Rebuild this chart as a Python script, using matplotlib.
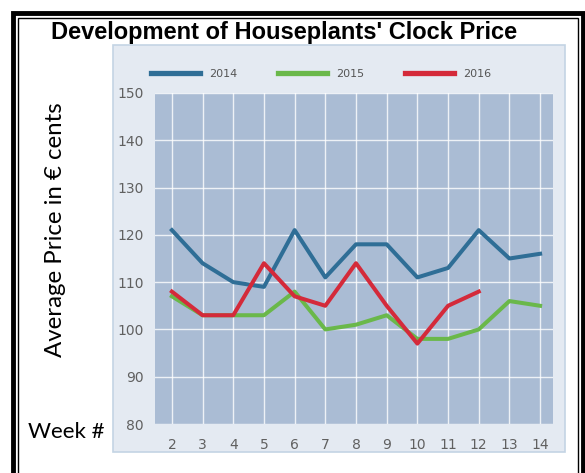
import matplotlib
matplotlib.use("Agg")
import matplotlib.pyplot as plt
from matplotlib.patches import Rectangle

# data
weeks = [2, 3, 4, 5, 6, 7, 8, 9, 10, 11, 12, 13, 14]
price_2014 = [121, 114, 110, 109, 121, 111, 118, 118, 111, 113, 121, 115, 116]
price_2015 = [107, 103, 103, 103, 108, 100, 101, 103, 98, 98, 100, 106, 105]
weeks_2016 = [2, 3, 4, 5, 6, 7, 8, 9, 10, 11, 12]
price_2016 = [108, 103, 103, 114, 107, 105, 114, 105, 97, 105, 108]
yticks = [80, 90, 100, 110, 120, 130, 140, 150]

W, H = 585, 473
fig = plt.figure(figsize=(W / 100, H / 100), dpi=100)
fig.patch.set_facecolor("white")

def px(x0, y0, x1, y1):
    # pixel box (top-left origin) -> figure fraction rect
    return (x0 / W, 1 - y1 / H, (x1 - x0) / W, (y1 - y0) / H)

# double border
r = px(12.5, 13, 582.5, 480)
fig.patches.append(Rectangle(r[:2], r[2], r[3], transform=fig.transFigure,
                             fill=False, ec="black", lw=3.5, zorder=-1))
r = px(17.5, 18, 577.5, 480)
fig.patches.append(Rectangle(r[:2], r[2], r[3], transform=fig.transFigure,
                             fill=False, ec="black", lw=1.0, zorder=-1))

# light panel behind the chart
r = px(113, 45, 565, 452)
fig.patches.append(Rectangle(r[:2], r[2], r[3], transform=fig.transFigure,
                             fc="#e4eaf2", ec="#c4d4e4", lw=1.2, zorder=-1))

ax = fig.add_axes(px(155, 93, 553, 424))
ax.set_facecolor("#aabcd4")
for s in ax.spines.values():
    s.set_visible(False)

ax.plot(weeks, price_2015, color="#6ab84a", lw=2.9, label="2015", zorder=3)
ax.plot(weeks, price_2014, color="#2f6e96", lw=2.9, label="2014", zorder=4)
ax.plot(weeks_2016, price_2016, color="#d42a3a", lw=2.9, label="2016", zorder=5)

ax.set_xlim(1.45, 14.42)
ax.set_ylim(80, 150)
ax.set_xticks(weeks)
ax.set_yticks(yticks)
ax.grid(True, color="white", lw=1.0, alpha=0.8)
ax.set_axisbelow(True)
ax.tick_params(length=0, colors="#606060", labelsize=10)
ax.tick_params(axis="y", pad=8)
ax.tick_params(axis="x", pad=10)

h, l = ax.get_legend_handles_labels()
order = [1, 0, 2]
leg = fig.legend([h[i] for i in order], [l[i] for i in order],
                 loc="center left", bbox_to_anchor=(151 / W, 1 - 74 / H),
                 ncol=3, frameon=False, fontsize=8, handlelength=4.4,
                 handletextpad=0.8, columnspacing=3.7, borderpad=0,
                 borderaxespad=0, labelcolor="#555555")
for ln in leg.get_lines():
    ln.set_linewidth(3.8)

fig.text(284 / W, 1 - 32 / H, "Development of Houseplants' Clock Price",
         ha="center", va="center", fontsize=17, fontweight="bold",
         family="Liberation Sans")
fig.text(55 / W, 1 - 230 / H, "Average Price in € cents", rotation=90,
         ha="center", va="center", fontsize=17.3, family="Lato")
fig.text(28 / W, 1 - 432 / H, "Week #", ha="left", va="center",
         fontsize=16, family="Lato")

fig.savefig("out.png", dpi=100)
